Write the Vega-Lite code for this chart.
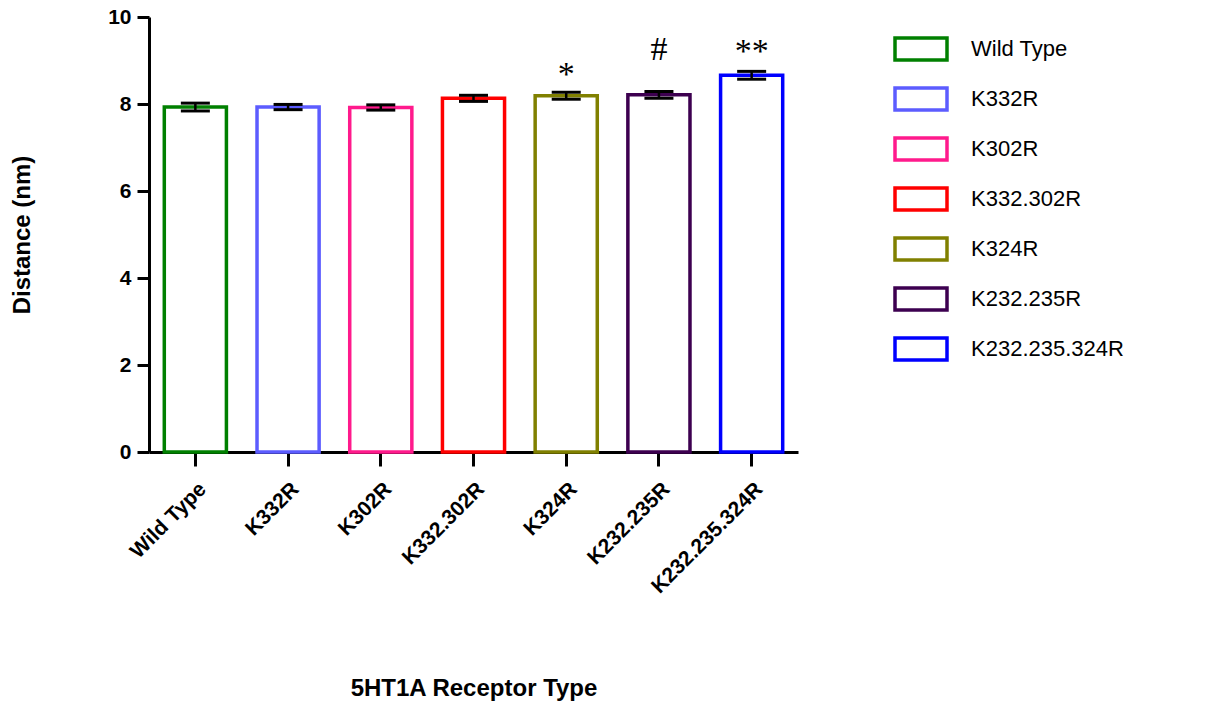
{
  "$schema": "https://vega.github.io/schema/vega-lite/v6.json",
  "width": 649,
  "height": 435,
  "autosize": {"type": "none"},
  "padding": {"left": 149, "top": 17, "right": 417, "bottom": 258},
  "background": "white",
  "datasets": {
    "bars": [
      {"type": "Wild Type", "mean": 7.93, "lo": 7.84, "hi": 8.02},
      {"type": "K332R", "mean": 7.93, "lo": 7.87, "hi": 7.99},
      {"type": "K302R", "mean": 7.92, "lo": 7.86, "hi": 7.98},
      {"type": "K332.302R", "mean": 8.13, "lo": 8.06, "hi": 8.2},
      {"type": "K324R", "mean": 8.19, "lo": 8.11, "hi": 8.27},
      {"type": "K232.235R", "mean": 8.21, "lo": 8.13, "hi": 8.29},
      {"type": "K232.235.324R", "mean": 8.66, "lo": 8.57, "hi": 8.75}
    ],
    "marks": [
      {"type": "K324R", "label": "*", "pos": 8.66},
      {"type": "K232.235R", "label": "#", "pos": 9.24},
      {"type": "K232.235.324R", "label": "**", "pos": 9.2}
    ]
  },
  "encoding": {
    "x": {
      "field": "type",
      "type": "nominal",
      "sort": ["Wild Type", "K332R", "K302R", "K332.302R", "K324R", "K232.235R", "K232.235.324R"],
      "scale": {"paddingInner": 0.33, "paddingOuter": 0.165},
      "axis": {
        "title": "5HT1A Receptor Type",
        "titleFont": "Liberation Sans",
        "titleFontSize": 24,
        "titleFontWeight": "bold",
        "titleColor": "black",
        "titlePadding": 80,
        "labelAngle": -45,
        "labelFont": "Liberation Sans",
        "labelFontSize": 21,
        "labelFontWeight": "bold",
        "labelColor": "black",
        "labelPadding": 12,
        "bandPosition": 0.5,
        "domainColor": "black",
        "domainWidth": 3,
        "tickColor": "black",
        "tickWidth": 3,
        "tickSize": 14,
        "grid": false
      }
    }
  },
  "layer": [
    {
      "data": {"name": "bars"},
      "mark": {"type": "bar", "fill": "white", "strokeWidth": 3.5, "strokeJoin": "miter"},
      "encoding": {
        "y": {
          "field": "mean",
          "type": "quantitative",
          "scale": {"domain": [0, 10], "nice": false},
          "axis": {
            "title": "Distance (nm)",
            "titleFont": "Liberation Sans",
            "titleFontSize": 24,
            "titleFontWeight": "bold",
            "titleColor": "black",
            "titlePadding": 73,
            "values": [0, 2, 4, 6, 8, 10],
            "labelFont": "Liberation Sans",
            "labelFontSize": 21,
            "labelFontWeight": "bold",
            "labelColor": "black",
            "labelPadding": 6,
            "domainColor": "black",
            "domainWidth": 3,
            "tickColor": "black",
            "tickWidth": 3,
            "tickSize": 12,
            "grid": false
          }
        },
        "stroke": {
          "field": "type",
          "type": "nominal",
          "sort": ["Wild Type", "K332R", "K302R", "K332.302R", "K324R", "K232.235R", "K232.235.324R"],
          "scale": {
            "domain": ["Wild Type", "K332R", "K302R", "K332.302R", "K324R", "K232.235R", "K232.235.324R"],
            "range": ["#008000", "#5C5CFF", "#FF1A8C", "#FF0000", "#808000", "#3D0050", "#0000FF"]
          },
          "legend": {
            "title": null,
            "orient": "none",
            "legendX": 744,
            "legendY": 4,
            "padding": 0,
            "symbolType": "M-1,-0.42H1V0.42H-1Z",
            "symbolSize": 2704,
            "symbolStrokeWidth": 3.5,
            "symbolFillColor": "white",
            "labelFont": "Liberation Sans",
            "labelFontSize": 22,
            "labelColor": "black",
            "labelOffset": 22,
            "rowPadding": 4,
            "labelLimit": 400
          }
        }
      }
    },
    {
      "data": {"name": "bars"},
      "mark": {"type": "rule", "color": "black", "strokeWidth": 2.5},
      "encoding": {
        "y": {"field": "lo", "type": "quantitative"},
        "y2": {"field": "hi"}
      }
    },
    {
      "data": {"name": "bars"},
      "mark": {"type": "tick", "color": "black", "opacity": 1, "thickness": 3, "size": 29},
      "encoding": {
        "y": {"field": "lo", "type": "quantitative"}
      }
    },
    {
      "data": {"name": "bars"},
      "mark": {"type": "tick", "color": "black", "opacity": 1, "thickness": 3, "size": 29},
      "encoding": {
        "y": {"field": "hi", "type": "quantitative"}
      }
    },
    {
      "data": {"name": "marks"},
      "mark": {"type": "text", "font": "Liberation Serif", "fontSize": 34, "color": "black", "baseline": "middle", "align": "center"},
      "encoding": {
        "y": {"field": "pos", "type": "quantitative"},
        "text": {"field": "label"}
      }
    }
  ],
  "config": {
    "view": {"stroke": null}
  }
}
